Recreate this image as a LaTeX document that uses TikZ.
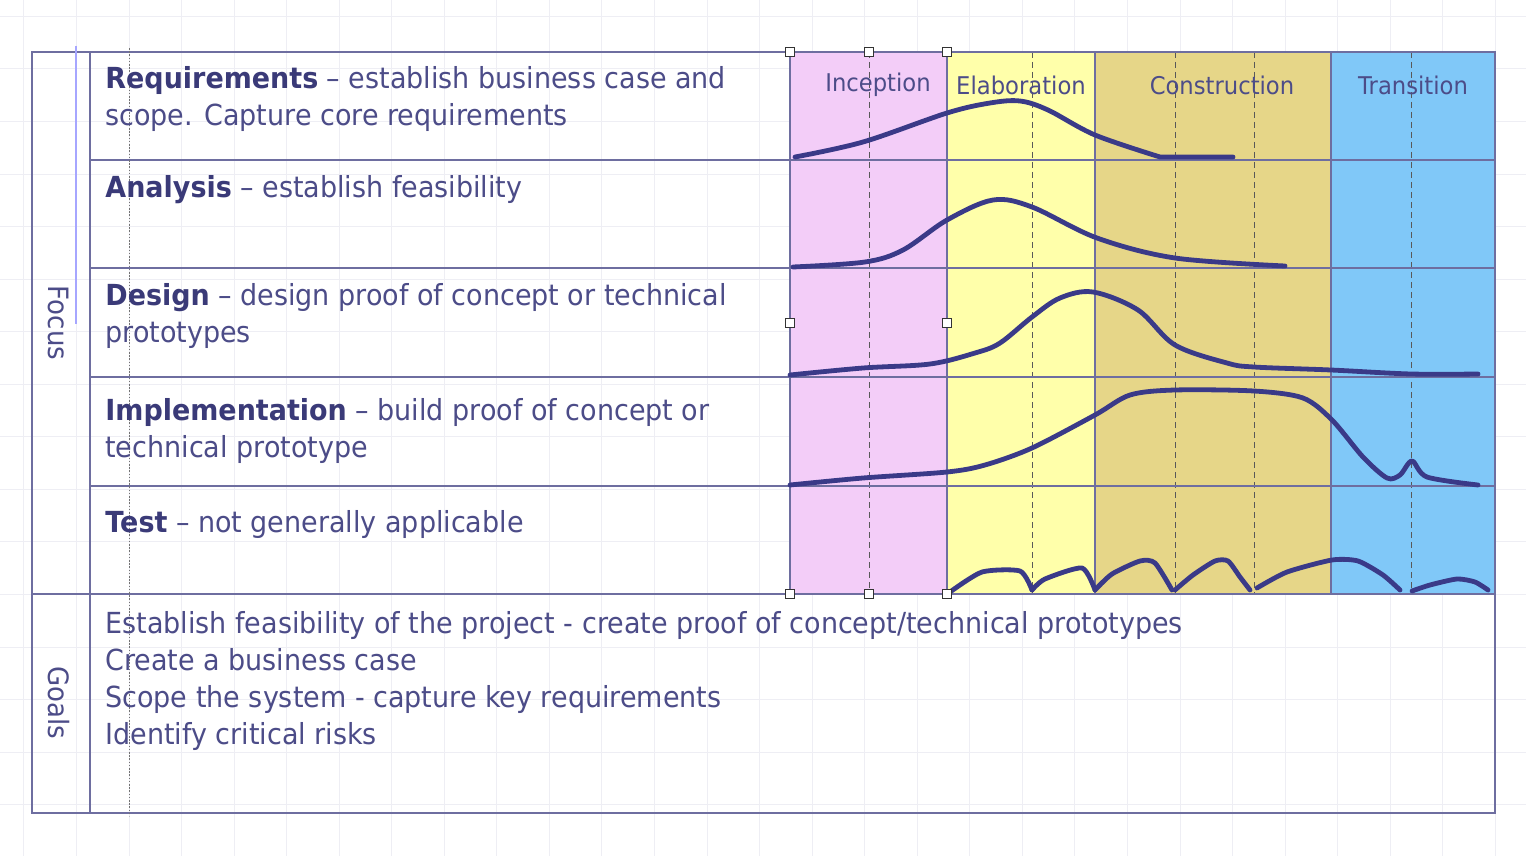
\documentclass[tikz,border=0pt]{standalone}
\usepackage{fontspec}
\setmainfont[FakeStretch=0.93]{DejaVu Sans}
\definecolor{pinkph}{HTML}{F3CDF8}
\definecolor{yelph}{HTML}{FFFFAA}
\definecolor{khaph}{HTML}{E6D688}
\definecolor{bluph}{HTML}{80C8F8}
\definecolor{frm}{HTML}{6E6EA0}
\definecolor{crvc}{HTML}{3A3A88}
\definecolor{txt}{HTML}{4C4C88}
\definecolor{txtb}{HTML}{3A3A78}
\definecolor{gridc}{HTML}{EEEEF4}
\newcommand\rowhead[1]{\textcolor{txtb}{\bfseries #1}}
\begin{document}
\begin{tikzpicture}[x=0.5pt,y=-0.5pt,
  gridl/.style={draw=gridc,line width=0.5pt},
  frameline/.style={draw=frm,line width=0.8pt},
  phdash/.style={draw=black!65,line width=0.5pt,dash pattern=on 3pt off 2pt},
  selline/.style={draw=blue!35,line width=1pt},
  dotl/.style={draw=black!55,line width=0.5pt,dash pattern=on 0.8pt off 0.8pt},
  crv/.style={draw=crvc,line width=2.4pt,line cap=round,line join=round},
  rowtxt/.style={anchor=base west,align=left,inner sep=0pt,text=txt,font=\fontsize{14.5}{18.5}\selectfont},
  phlbl/.style={anchor=center,inner sep=0pt,text=txt,font=\fontsize{12.2}{14}\selectfont},
  sidelbl/.style={anchor=center,inner sep=0pt,text=txt,font=\fontsize{14}{16}\selectfont},
  handle/.style={draw=black!80,fill=white,line width=0.4pt}]
\useasboundingbox (0,0) rectangle (1526,856);
\fill[white] (0,0) rectangle (1526,856);
% background grid
\foreach \i in {-2,...,26} \draw[gridl] ({129+52.55*\i},0) -- ({129+52.55*\i},856);
\foreach \k in {-11,...,5} \draw[gridl] (0,{594.5+52.55*\k}) -- (1526,{594.5+52.55*\k});
% phase fills
\fill[pinkph] (790,52) rectangle (947,594);
\fill[yelph] (947,52) rectangle (1095,594);
\fill[khaph] (1095,52) rectangle (1331,594);
\fill[bluph] (1331,52) rectangle (1495,594);
% dashed phase iteration lines
\foreach \x in {869,1032,1175,1254,1411} \draw[phdash] (\x,52) -- (\x,594);
% frame
\draw[frameline] (32,52) rectangle (1495,813);
\draw[frameline] (90,52) -- (90,813);
\draw[frameline] (32,594) -- (1495,594);
\foreach \y in {160,268,377,486} \draw[frameline] (90,\y) -- (1495,\y);
\foreach \x in {790,947,1095,1331} \draw[frameline] (\x,52) -- (\x,594);
% selection artefacts
\draw[selline] (76,46) -- (76,324);
\draw[dotl] (129,48) -- (129,816);
% side labels
\node[sidelbl,rotate=-90] (focus) at (59,323) {Focus};
\node[sidelbl,rotate=-90] (goals) at (59,703) {Goals};
% row texts (anchored at the baseline of the last line)
\node[rowtxt] (req) at (105,126) {\rowhead{Requirements} – establish business case and\\scope. Capture core requirements};
\node[rowtxt] (ana) at (105,198) {\rowhead{Analysis} – establish feasibility};
\node[rowtxt] (des) at (105,342) {\rowhead{Design} – design proof of concept or technical\\prototypes};
\node[rowtxt] (imp) at (105,457) {\rowhead{Implementation} – build proof of concept or\\technical prototype};
\node[rowtxt] (tst) at (105,532) {\rowhead{Test} – not generally applicable};
\node[rowtxt] (gls) at (105,744) {Establish feasibility of the project - create proof of concept/technical prototypes\\Create a business case\\Scope the system - capture key requirements\\Identify critical risks};
% phase labels
\node[phlbl] (inc) at (878,85) {Inception};
\node[phlbl] (ela) at (1021,85) {Elaboration};
\node[phlbl] (con) at (1222,85) {Construction};
\node[phlbl] (tra) at (1413,85) {Transition};
% curves
\draw[crv] plot[smooth,tension=0.55] coordinates {(795,157) (863,142) (947,113) (990,103) (1020,101) (1048,110) (1095,135) (1160,157)} -- (1233,157);
\draw[crv] plot[smooth,tension=0.55] coordinates {(793,267) (865,262) (903,250) (947,220) (993,200) (1032,207) (1097,238) (1175,258) (1285,266)};
\draw[crv] plot[smooth,tension=0.55] coordinates {(790,375) (863,368) (930,364) (975,353) (1000,343) (1032,317) (1060,298) (1093,292) (1138,310) (1175,345) (1227,363) (1254,367) (1331,370) (1411,374) (1478,374)};
\draw[crv] plot[smooth,tension=0.5] coordinates {(790,485) (863,478) (947,472) (985,465) (1032,448) (1095,415) (1130,395) (1175,390) (1254,391) (1303,398) (1332,420) (1363,457) (1387,478) (1400,475) (1412,461) (1427,477) (1478,485)};
% test waves
\draw[crv] plot[smooth,tension=0.4] coordinates {(950,592) (982,572) (1020,571) (1032,590)};
\draw[crv] plot[smooth,tension=0.4] coordinates {(1032,590) (1045,579) (1082,568) (1095,590)};
\draw[crv] plot[smooth,tension=0.4] coordinates {(1095,590) (1112,574) (1140,561) (1155,563) (1172,590)};
\draw[crv] plot[smooth,tension=0.4] coordinates {(1175,590) (1193,575) (1215,561) (1228,561) (1240,577) (1250,590)};
\draw[crv] plot[smooth,tension=0.4] coordinates {(1257,588) (1287,572) (1332,560) (1358,561) (1383,575) (1400,590)};
\draw[crv] plot[smooth,tension=0.4] coordinates {(1412,591) (1430,585) (1457,579) (1475,582) (1488,590)};
% selection handles
\foreach \x/\y in {790/52,869/52,947/52,790/323,947/323,790/594,869/594,947/594}
  \draw[handle] (\x-4.5,\y-4.5) rectangle (\x+4.5,\y+4.5);
\end{tikzpicture}
\end{document}
